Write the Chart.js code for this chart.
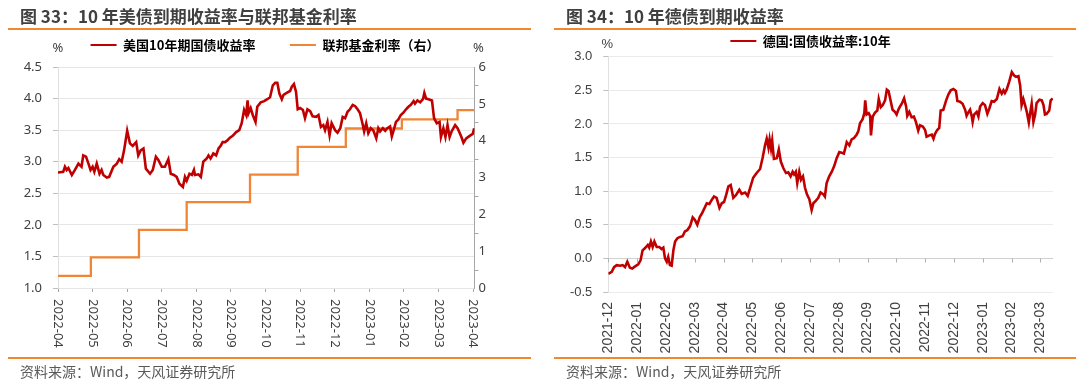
<!DOCTYPE html>
<html>
<head>
<meta charset="utf-8">
<script src="https://cdn.jsdelivr.net/npm/chart.js@4.4.0/dist/chart.umd.min.js"></script>
<style>
  body { margin: 0; background: #fff; }
  #wrap { position: relative; width: 1080px; height: 386px; overflow: hidden; font-family: "Noto Sans CJK SC", sans-serif; }
  .panel { position: absolute; top: 0; width: 540px; height: 386px; }
  .panel canvas { position: absolute; left: 0; top: 0; }
  .title { position: absolute; top: 6px; font-size: 17px; line-height: 20px; font-weight: bold; color: #404040; white-space: nowrap; }
  .rule { position: absolute; height: 2px; background: #f0892e; }
  .source { position: absolute; top: 362px; font-size: 14px; line-height: 18px; color: #595959; white-space: nowrap; }
</style>
</head>
<body>
<div id="wrap">
  <div class="panel" style="left:0">
    <canvas id="usChart" width="540" height="386"></canvas>
    <div class="title" style="left:20px">图 33：10 年美债到期收益率与联邦基金利率</div>
    <div class="rule" style="left:8px; top:28px; width:523px"></div>
    <div class="rule" style="left:8px; top:357px; width:523px"></div>
    <div class="source" style="left:20px">资料来源：Wind，天风证券研究所</div>
  </div>
  <div class="panel" style="left:540px">
    <canvas id="deChart" width="540" height="386"></canvas>
    <div class="title" style="left:26px">图 34：10 年德债到期收益率</div>
    <div class="rule" style="left:14px; top:28px; width:522px"></div>
    <div class="rule" style="left:14px; top:357px; width:522px"></div>
    <div class="source" style="left:26px">资料来源：Wind，天风证券研究所</div>
  </div>
</div>
<script>
// ---- Fig 33: US 10y yield (left axis) and fed funds rate (right axis)
// x positions are in months counted from the 2022-04 tick
const usTickLabels = ['2022-04', '2022-05', '2022-06', '2022-07', '2022-08', '2022-09', '2022-10',
  '2022-11', '2022-12', '2023-01', '2023-02', '2023-03', '2023-04'];

const usMonths = [0.00, 0.15, 0.20, 0.25, 0.30, 0.40, 0.49, 0.59, 0.68, 0.73, 0.81, 0.88, 0.94, 1.00,
  1.05, 1.12, 1.20, 1.26, 1.31, 1.41, 1.48, 1.60, 1.70, 1.77, 1.84, 1.91, 2.00, 2.08, 2.16, 2.26,
  2.32, 2.39, 2.47, 2.54, 2.66, 2.74, 2.83, 2.90, 3.00, 3.09, 3.19, 3.26, 3.35, 3.43, 3.51, 3.61,
  3.67, 3.72, 3.80, 3.87, 3.93, 3.96, 4.06, 4.13, 4.20, 4.30, 4.35, 4.41, 4.49, 4.57, 4.64, 4.70,
  4.76, 4.83, 4.90, 4.97, 5.05, 5.15, 5.24, 5.31, 5.38, 5.44, 5.48, 5.51, 5.57, 5.63, 5.71, 5.76,
  5.86, 5.96, 6.05, 6.13, 6.21, 6.28, 6.34, 6.40, 6.47, 6.52, 6.61, 6.71, 6.76, 6.82, 6.88, 6.93,
  7.00, 7.08, 7.14, 7.21, 7.29, 7.36, 7.46, 7.53, 7.60, 7.67, 7.72, 7.79, 7.85, 7.91, 8.01, 8.08,
  8.16, 8.23, 8.30, 8.37, 8.44, 8.52, 8.59, 8.66, 8.73, 8.80, 8.85, 8.91, 8.97, 9.04, 9.12, 9.20,
  9.26, 9.31, 9.39, 9.46, 9.52, 9.60, 9.65, 9.72, 9.77, 9.84, 9.91, 9.99, 10.06, 10.13, 10.20,
  10.28, 10.32, 10.39, 10.47, 10.55, 10.59, 10.64, 10.71, 10.81, 10.87, 10.95, 11.03, 11.07, 11.14,
  11.20, 11.26, 11.32, 11.38, 11.48, 11.55, 11.61, 11.67, 11.72, 11.80, 11.90, 11.99, 12.03];

const usYield = [2.83, 2.84, 2.92, 2.87, 2.90, 2.79, 2.87, 2.97, 2.92, 3.10, 3.08, 2.97, 2.87, 2.92,
  2.84, 2.97, 2.81, 2.87, 2.79, 2.75, 2.76, 2.92, 2.97, 3.04, 3.00, 3.18, 3.49, 3.29, 3.25, 3.31,
  3.10, 3.18, 3.21, 2.89, 2.81, 2.87, 3.08, 3.03, 2.92, 2.92, 3.04, 2.81, 2.79, 2.76, 2.65, 2.60,
  2.76, 2.70, 2.81, 2.79, 2.87, 2.79, 2.80, 2.76, 3.00, 3.05, 3.10, 3.05, 3.13, 3.10, 3.21, 3.25,
  3.31, 3.31, 3.34, 3.38, 3.41, 3.47, 3.50, 3.61, 3.82, 3.74, 3.97, 3.77, 3.85, 3.74, 3.63, 3.87,
  3.94, 3.96, 3.99, 4.02, 4.21, 4.25, 4.25, 4.08, 3.99, 4.06, 4.09, 4.12, 4.19, 4.23, 4.11, 3.83,
  3.85, 3.82, 3.69, 3.83, 3.80, 3.72, 3.71, 3.74, 3.55, 3.58, 3.50, 3.63, 3.42, 3.61, 3.50, 3.46,
  3.53, 3.71, 3.69, 3.79, 3.83, 3.90, 3.88, 3.83, 3.77, 3.61, 3.48, 3.61, 3.45, 3.53, 3.49, 3.37,
  3.53, 3.48, 3.53, 3.49, 3.53, 3.56, 3.40, 3.53, 3.63, 3.67, 3.74, 3.78, 3.83, 3.87, 3.90,
  3.96, 3.92, 3.97, 3.94, 3.99, 4.09, 4.00, 3.99, 3.97, 3.69, 3.61, 3.63, 3.39, 3.53,
  3.39, 3.58, 3.39, 3.48, 3.58, 3.53, 3.46, 3.38, 3.30, 3.37, 3.41, 3.44, 3.53];

const fedMonths = [0, 0.95, 2.34, 3.72, 5.55, 6.93, 8.32, 9.94, 11.55, 12.03];
const fedRate = [0.33, 0.83, 1.58, 2.33, 3.08, 3.83, 4.33, 4.58, 4.83, 4.83];

// ---- Fig 34: German 10y yield, x in months counted from the 2021-12 tick
const deTickLabels = ['2021-12', '2022-01', '2022-02', '2022-03', '2022-04', '2022-05', '2022-06',
  '2022-07', '2022-08', '2022-09', '2022-10', '2022-11', '2022-12', '2023-01', '2023-02', '2023-03'];

const deMonths = [0.00, 0.12, 0.20, 0.29, 0.41, 0.50, 0.58, 0.66, 0.75, 0.83, 0.93, 1.04, 1.12, 1.19,
  1.27, 1.37, 1.42, 1.48, 1.54, 1.60, 1.68, 1.77, 1.85, 1.91, 1.97, 2.03, 2.08, 2.14, 2.20, 2.26,
  2.32, 2.40, 2.49, 2.58, 2.66, 2.74, 2.84, 2.93, 3.01, 3.09, 3.18, 3.24, 3.32, 3.42, 3.51, 3.59,
  3.67, 3.76, 3.86, 3.94, 4.02, 4.09, 4.17, 4.25, 4.34, 4.43, 4.55, 4.63, 4.75, 4.84, 4.92, 5.03,
  5.15, 5.27, 5.36, 5.44, 5.50, 5.56, 5.60, 5.65, 5.69, 5.75, 5.85, 5.92, 5.99, 6.08, 6.17, 6.25,
  6.33, 6.40, 6.45, 6.51, 6.56, 6.63, 6.69, 6.76, 6.83, 6.90, 6.98, 7.06, 7.12, 7.21, 7.29, 7.37,
  7.47, 7.52, 7.58, 7.67, 7.76, 7.84, 7.93, 8.02, 8.10, 8.18, 8.28, 8.37, 8.45, 8.53, 8.62, 8.68,
  8.74, 8.83, 8.89, 8.92, 8.97, 9.04, 9.09, 9.12, 9.18, 9.26, 9.34, 9.39, 9.46, 9.53, 9.61, 9.67,
  9.73, 9.80, 9.87, 9.95, 10.01, 10.07, 10.13, 10.19, 10.27, 10.34, 10.38, 10.45, 10.53, 10.61,
  10.68, 10.76, 10.82, 10.92, 11.00, 11.05, 11.15, 11.23, 11.29, 11.34, 11.42, 11.49, 11.54, 11.63,
  11.73, 11.81, 11.89, 11.98, 12.07, 12.12, 12.21, 12.30, 12.39, 12.44, 12.50, 12.56, 12.62, 12.65,
  12.70, 12.79, 12.85, 12.91, 13.00, 13.08, 13.16, 13.23, 13.31, 13.39, 13.49, 13.58, 13.66, 13.72,
  13.77, 13.83, 13.92, 14.01, 14.09, 14.16, 14.24, 14.30, 14.35, 14.41, 14.47, 14.53, 14.60, 14.64,
  14.70, 14.76, 14.82, 14.87, 14.97, 15.05, 15.11, 15.16, 15.22, 15.31, 15.36, 15.43];

const deYield = [-0.23, -0.20, -0.13, -0.10, -0.11, -0.10, -0.13, -0.05, -0.14, -0.15, -0.12, -0.09, -0.03, 0.12,
  0.15, 0.20, 0.16, 0.25, 0.17, 0.25, 0.17, 0.17, 0.14, 0.16, 0.00, -0.05, 0.02, -0.10, -0.11, 0.12,
  0.25, 0.30, 0.32, 0.33, 0.40, 0.42, 0.48, 0.61, 0.57, 0.50, 0.62, 0.66, 0.73, 0.82, 0.81, 0.87,
  0.92, 0.90, 0.75, 0.82, 0.84, 0.94, 1.07, 1.09, 0.90, 0.94, 1.02, 0.96, 0.98, 0.93, 1.04, 1.20,
  1.27, 1.33, 1.50, 1.68, 1.78, 1.65, 1.77, 1.63, 1.75, 1.48, 1.49, 1.62, 1.44, 1.34, 1.27, 1.28,
  1.22, 1.29, 1.25, 1.29, 1.12, 1.29, 1.17, 1.22, 1.05, 0.95, 0.88, 0.72, 0.82, 0.86, 0.90, 0.98,
  0.95, 0.92, 1.12, 1.22, 1.29, 1.37, 1.49, 1.58, 1.57, 1.56, 1.73, 1.68, 1.77, 1.79, 1.84, 1.89,
  2.01, 2.07, 2.16, 2.35, 2.14, 2.16, 2.12, 1.83, 2.11, 2.17, 2.20, 2.37, 2.25, 2.28, 2.35, 2.51,
  2.49, 2.35, 2.21, 2.18, 2.14, 2.21, 2.26, 2.30, 2.38, 2.26, 2.12, 2.18, 2.10, 2.11,
  2.03, 1.90, 1.98, 1.96, 1.91, 1.81, 1.83, 1.84, 1.78, 1.85, 1.91, 1.94, 2.20, 2.21,
  2.35, 2.44, 2.50, 2.52, 2.49, 2.34, 2.33, 2.30, 2.21, 2.12, 2.17, 2.21, 2.11, 2.03,
  2.14, 2.18, 2.11, 2.26, 2.31, 2.28, 2.15, 2.23, 2.34, 2.33, 2.37, 2.52, 2.45, 2.50,
  2.46, 2.51, 2.63, 2.77, 2.72, 2.70, 2.71, 2.57, 2.28, 2.37, 2.28, 2.18, 2.02, 2.14,
  2.30, 2.03, 2.14, 2.31, 2.36, 2.35, 2.28, 2.14, 2.15, 2.20, 2.35, 2.38];

const RED = '#c00000';
const ORANGE = '#ef8535';
const TEXT = '#404040';

function pairs(xs, ys) {
  return xs.map((x, i) => ({ x: x, y: ys[i] }));
}

// legend height is pinned so the plot area starts where the reference one does
function legendHeight(h) {
  return {
    id: 'legendHeight',
    beforeInit(chart) {
      const fit = chart.legend.fit;
      chart.legend.fit = function() {
        fit.call(this);
        this.height = h;
      };
    }
  };
}

function lineLabels(chart) {
  return chart.data.datasets.map((ds, i) => ({
    text: ds.label,
    fillStyle: ds.borderColor,
    strokeStyle: ds.borderColor,
    lineWidth: 0,
    hidden: false,
    datasetIndex: i
  }));
}

function legendOpts(pad) {
  return {
    position: 'top',
    labels: {
      boxWidth: 26,
      boxHeight: 2,
      padding: pad,
      color: '#1a1a1a',
      font: { family: '"Noto Sans CJK SC"', size: 13, weight: 'bold' },
      generateLabels: lineLabels
    }
  };
}

// month labels read top to bottom, minor ticks on the right axis, unit marks
const usExtras = {
  id: 'usExtras',
  afterDraw(chart) {
    const ctx = chart.ctx;
    const x = chart.scales.x;
    const y1 = chart.scales.y1;
    const area = chart.chartArea;
    ctx.save();
    ctx.fillStyle = TEXT;
    ctx.font = '13px "Noto Sans"';
    ctx.textAlign = 'left';
    ctx.textBaseline = 'middle';
    x.ticks.forEach(t => {
      ctx.save();
      ctx.translate(x.getPixelForValue(t.value), area.bottom + 11);
      ctx.rotate(Math.PI / 2);
      ctx.fillText(usTickLabels[t.value], 0, 0);
      ctx.restore();
    });
    ctx.strokeStyle = '#a6a6a6';
    ctx.lineWidth = 1;
    for (let v = 0.5; v < 6; v += 1) {
      const py = Math.round(y1.getPixelForValue(v)) + 0.5;
      ctx.beginPath();
      ctx.moveTo(area.right, py);
      ctx.lineTo(area.right + 4, py);
      ctx.stroke();
    }
    ctx.textAlign = 'center';
    ctx.fillText('%', area.left, area.top - 19);
    ctx.fillText('%', area.right + 4, area.top - 19);
    ctx.restore();
  }
};

// zero line with tick marks, unit mark
const deExtras = {
  id: 'deExtras',
  beforeDatasetsDraw(chart) {
    const ctx = chart.ctx;
    const x = chart.scales.x;
    const y = chart.scales.y;
    const area = chart.chartArea;
    const py = Math.round(y.getPixelForValue(0)) + 0.5;
    ctx.save();
    ctx.strokeStyle = '#d0d0d0';
    ctx.lineWidth = 1;
    ctx.beginPath();
    ctx.moveTo(area.left, py);
    ctx.lineTo(area.right, py);
    ctx.stroke();
    ctx.strokeStyle = '#b0b0b0';
    x.ticks.forEach(t => {
      const px = Math.round(x.getPixelForValue(t.value)) + 0.5;
      ctx.beginPath();
      ctx.moveTo(px, py);
      ctx.lineTo(px, py + 4);
      ctx.stroke();
    });
    ctx.fillStyle = TEXT;
    ctx.font = '13px "Liberation Sans"';
    ctx.textAlign = 'center';
    ctx.textBaseline = 'middle';
    ctx.fillText('%', area.left - 1, area.top - 12);
    ctx.restore();
  }
};

new Chart(document.getElementById('usChart'), {
  type: 'line',
  data: {
    datasets: [{
      label: '美国10年期国债收益率',
      data: pairs(usMonths, usYield),
      yAxisID: 'y',
      borderColor: RED,
      borderWidth: 2.6,
      pointRadius: 0
    }, {
      label: '联邦基金利率（右）',
      data: pairs(fedMonths, fedRate),
      yAxisID: 'y1',
      borderColor: ORANGE,
      borderWidth: 2.3,
      pointRadius: 0,
      stepped: 'before'
    }]
  },
  options: {
    responsive: false,
    animation: false,
    layout: { padding: { top: 4, right: 10, left: 0, bottom: 0 } },
    plugins: {
      legend: legendOpts(34.5),
      tooltip: { enabled: false }
    },
    scales: {
      x: {
        type: 'linear',
        min: 0,
        max: 12.04,
        afterFit(s) { s.height = 98; },
        ticks: { stepSize: 1, includeBounds: false, display: false },
        grid: { drawOnChartArea: false, tickLength: 4, tickColor: '#a6a6a6' },
        border: { display: false }
      },
      y: {
        position: 'left',
        min: 1,
        max: 4.5,
        afterFit(s) { s.width = 58; },
        ticks: {
          stepSize: 0.5,
          padding: 11,
          color: TEXT,
          font: { family: '"Noto Sans"', size: 13 },
          callback: v => v.toFixed(1)
        },
        grid: { color: '#e6e6e6', tickColor: '#bfbfbf', tickLength: 5 },
        border: { color: '#e0e0e0' }
      },
      y1: {
        position: 'right',
        min: 0,
        max: 6,
        afterFit(s) { s.width = 55.5; },
        ticks: {
          stepSize: 1,
          padding: 4,
          color: TEXT,
          font: { family: '"Noto Sans"', size: 13 }
        },
        grid: { drawOnChartArea: false, drawTicks: false },
        border: { color: '#a6a6a6' }
      }
    }
  },
  plugins: [legendHeight(63), usExtras]
});

new Chart(document.getElementById('deChart'), {
  type: 'line',
  data: {
    datasets: [{
      label: '德国:国债收益率:10年',
      data: pairs(deMonths, deYield),
      borderColor: RED,
      borderWidth: 2.6,
      pointRadius: 0
    }]
  },
  options: {
    responsive: false,
    animation: false,
    layout: { padding: { top: 24.5, right: 27, left: 28, bottom: 0 } },
    plugins: {
      legend: legendOpts(10),
      tooltip: { enabled: false }
    },
    scales: {
      x: {
        type: 'linear',
        min: 0,
        max: 15.44,
        afterFit(s) { s.height = 94; },
        ticks: {
          stepSize: 1,
          includeBounds: false,
          autoSkip: false,
          minRotation: 90,
          maxRotation: 90,
          padding: 10,
          color: TEXT,
          font: { family: '"Liberation Sans"', size: 14 },
          callback: v => deTickLabels[v]
        },
        grid: { display: false, drawTicks: false },
        border: { display: false }
      },
      y: {
        min: -0.5,
        max: 3,
        afterFit(s) { s.width = 40.3; },
        ticks: {
          stepSize: 0.5,
          padding: 11,
          color: TEXT,
          font: { family: '"Liberation Sans"', size: 13 },
          callback: v => v.toFixed(1)
        },
        grid: { color: '#ebebeb', tickColor: '#bfbfbf', tickLength: 5 },
        border: { color: '#e0e0e0' }
      }
    }
  },
  plugins: [legendHeight(32.2), deExtras]
});
</script>
</body>
</html>
